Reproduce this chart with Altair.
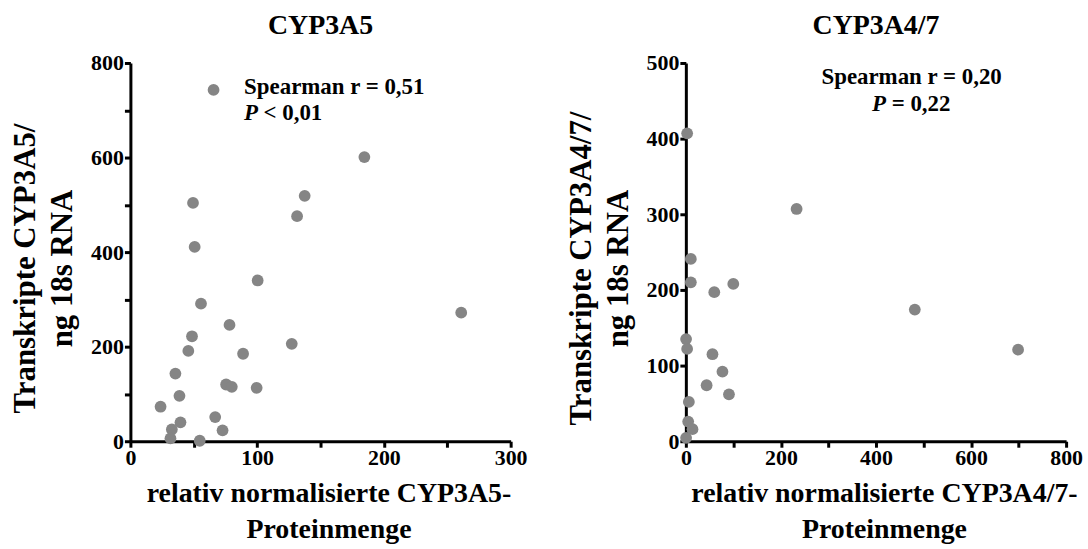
import altair as alt
import pandas as pd

# ---- data ----
a5_protein = [184.6, 137.5, 131.5, 49.4, 50.7, 100.4, 55.7, 261.0, 78.2, 48.6, 127.3, 45.7,
              88.9, 35.5, 75.5, 80.0, 99.6, 38.7, 23.8, 66.9, 39.5, 72.7, 32.7, 31.6, 54.7]
a5_transcript = [601, 519, 476, 504, 411, 340, 291, 272, 246, 222, 206, 191,
                 185, 143, 120, 115, 113, 96, 73, 51, 40, 23, 25, 6, 1]

a47_protein = [2.7, 233, 10.5, 10.5, 99.8, 59.8, 481.7, 0.5, 2.7, 699, 56, 77, 43.7, 90.7,
               6.3, 4.9, 14, 0.5]
a47_transcript = [407, 307, 241, 210, 208, 197, 174, 135, 122, 121, 115, 92, 74, 62,
                  52, 26, 16, 4.5]

FONT = "Liberation Serif"
GREY = "#858585"
W, H = 382, 380

df5 = pd.DataFrame({"x": a5_protein, "y": a5_transcript})
df47 = pd.DataFrame({"x": a47_protein, "y": a47_transcript})


def panel(df, title, xdom, ydom, xvals, yvals, xlab_step, ylab_step, xtitle, ytitle, ann_pts, ann_txt):
    xs = alt.Scale(domain=xdom, nice=False, zero=False)
    ys = alt.Scale(domain=ydom, nice=False, zero=False)
    xaxis = alt.Axis(values=xvals, labelExpr=f"datum.value % {xlab_step} === 0 ? datum.label : ''",
                     format="d", title=xtitle, grid=False, labelPadding=0, titlePadding=12,
                     titleFontSize=28, titleLineHeight=36, titleX=W / 2 + 8)
    yaxis = alt.Axis(values=yvals, labelExpr=f"datum.value % {ylab_step} === 0 ? datum.label : ''",
                     format="d", title=ytitle, grid=False, labelPadding=1, titlePadding=12,
                     titleFontSize=31, titleLineHeight=37, titleY=H / 2 + 16)
    pts = alt.Chart(df).mark_circle(size=140, color=GREY, opacity=1, clip=False).encode(
        x=alt.X("x:Q", scale=xs, axis=xaxis),
        y=alt.Y("y:Q", scale=ys, axis=yaxis),
    )
    layers = [pts]
    if ann_pts is not None:
        layers.append(alt.Chart(pd.DataFrame(ann_pts)).mark_circle(size=140, color=GREY, opacity=1).encode(
            x=alt.X("x:Q", scale=xs), y=alt.Y("y:Q", scale=ys)))
    adf = pd.DataFrame(ann_txt)
    for style in ["normal", "italic"]:
        for align in ["left", "center"]:
            sub = adf[(adf["style"] == style) & (adf["align"] == align)]
            if len(sub) == 0:
                continue
            layers.append(alt.Chart(sub).mark_text(font=FONT, fontSize=23, fontWeight="bold",
                                                   fontStyle=style, align=align, baseline="middle",
                                                   color="black").encode(
                x=alt.X("x:Q", scale=xs), y=alt.Y("y:Q", scale=ys), text="t:N"))
    return alt.layer(*layers).properties(
        width=W, height=H,
        title=alt.TitleParams(title, font=FONT, fontSize=28, fontWeight="bold", color="black",
                              anchor="middle", frame="group", offset=12),
    )


left = panel(
    df5, "CYP3A5", [0, 300], [0, 800], list(range(0, 301, 50)), list(range(0, 801, 100)), 100, 200,
    ["relativ normalisierte CYP3A5-", "Proteinmenge"], ["Transkripte CYP3A5/", "ng 18s RNA"],
    {"x": [65.6], "y": [743]},
    {"x": [89.7, 89.7, 105], "y": [750, 694, 694], "t": ["Spearman r = 0,51", "P", "< 0,01"],
     "style": ["normal", "italic", "normal"], "align": ["left", "left", "left"]},
)
right = panel(
    df47, "CYP3A4/7", [0, 800], [0, 500], list(range(0, 801, 100)), list(range(0, 501, 100)), 200, 100,
    ["relativ normalisierte CYP3A4/7-", "Proteinmenge"], ["Transkripte CYP3A4/7/", "ng 18s RNA"],
    None,
    {"x": [475, 391.6, 433], "y": [481, 446, 446], "t": ["Spearman r = 0,20", "P", "= 0,22"],
     "style": ["normal", "italic", "normal"], "align": ["center", "left", "left"]},
)

chart = alt.hconcat(left, right, spacing=38).properties(
    padding={"left": 10, "top": 11, "right": 5, "bottom": 5}
).configure(font=FONT).configure_view(stroke=None).configure_axis(
    domainColor="black", domainWidth=3, tickColor="black", tickWidth=3, tickSize=6,
    labelFont=FONT, labelFontSize=22, labelFontWeight="bold", labelColor="black",
    titleFont=FONT, titleFontWeight="bold", titleColor="black",
    labelFlush=False, labelOverlap=False,
)

chart.save("out.html", embed_options={"renderer": "svg", "actions": False})
